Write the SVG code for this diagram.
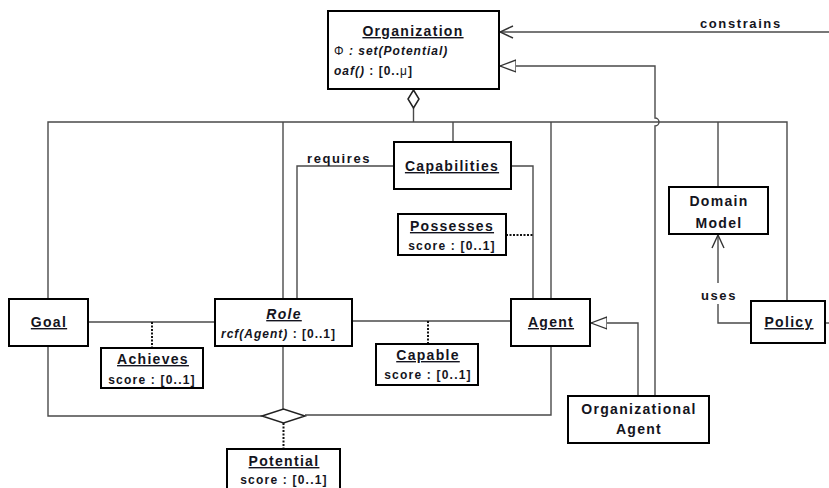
<svg xmlns="http://www.w3.org/2000/svg" width="829" height="488" viewBox="0 0 829 488">
<style>
.box{fill:#fff;stroke:#000;stroke-width:2}
.ln{fill:none;stroke:#4a4a4a;stroke-width:1.4}
.dot{fill:none;stroke:#111;stroke-width:2;stroke-dasharray:2 1.5}
text{font-family:"Liberation Sans",Arial,sans-serif;font-weight:bold;fill:#141420}
.n{font-size:14px;letter-spacing:1.3px;text-anchor:middle}
.u{text-decoration:underline}
.s{font-size:12px;letter-spacing:1.2px;text-anchor:middle}
.l{font-size:13px;letter-spacing:1.6px}
</style>
<defs>
<marker id="tri" viewBox="0 -7 17 14" refX="16" refY="0" markerWidth="17" markerHeight="14" markerUnits="userSpaceOnUse" orient="auto">
<path d="M0,-6 L16,0 L0,6 Z" fill="#fff" stroke="#333" stroke-width="1.3"/>
</marker>
<marker id="open" viewBox="0 -7 15 14" refX="14" refY="0" markerWidth="15" markerHeight="14" markerUnits="userSpaceOnUse" orient="auto">
<path d="M1,-6 L14,0 L1,6" fill="none" stroke="#333" stroke-width="1.4"/>
</marker>
</defs>
<g id="connectors">
<path class="ln" d="M829,32 H500" marker-end="url(#open)"/>
<path class="ln" d="M655,396 V126 A4,4 0 0 0 655,118 V66 H500" marker-end="url(#tri)"/>
<path class="ln" d="M48,299 V122 H787 V301"/>
<path class="ln" d="M413.5,108 V122"/>
<path class="ln" d="M283,122 V299"/>
<path class="ln" d="M453,122 V142"/>
<path class="ln" d="M551,122 V299"/>
<path class="ln" d="M718,122 V187"/>
<path class="ln" d="M394,166 H297 V299"/>
<path class="ln" d="M511,166 H533 V299"/>
<path class="dot" d="M506,235 H533"/>
<path class="ln" d="M88,322 H215"/>
<path class="dot" d="M152,322 V348"/>
<path class="ln" d="M352,321 H511"/>
<path class="dot" d="M428,321 V344"/>
<path class="ln" d="M638,396 V323 H591" marker-end="url(#tri)"/>
<path class="ln" d="M751,323 H718 V304"/>
<path class="ln" d="M718,283 V235" marker-end="url(#open)"/>
<path class="ln" d="M825,323 H829"/>
<path class="ln" d="M48,346 V416 H262"/>
<path class="ln" d="M283,346 V409"/>
<path class="ln" d="M551,346 V415 H305"/>
<path class="dot" d="M283.5,423 V449"/>
<polygon points="413.5,90 419,99 413.5,108 408,99" fill="#fff" stroke="#222" stroke-width="1.5"/>
<polygon points="262,416 283.5,409 305,416 283.5,423" fill="#fff" stroke="#222" stroke-width="1.5"/>
<text class="l" x="700" y="28">constrains</text>
<text class="l" x="307" y="163">requires</text>
<text class="l" x="719" y="300" text-anchor="middle">uses</text>
</g>
<g id="organization">
<rect class="box" x="328" y="11" width="171" height="78"/>
<text class="n u" x="413" y="36">Organization</text>
<text x="334" y="55" style="font-size:12px;letter-spacing:1px"><tspan font-weight="normal">Φ</tspan><tspan font-style="italic"> : set(Potential)</tspan></text>
<text x="334" y="75" style="font-size:12px;letter-spacing:1px"><tspan font-style="italic">oaf()</tspan> : [0..<tspan font-weight="normal">μ</tspan>]</text>
</g>
<g id="capabilities">
<rect class="box" x="394" y="142" width="117" height="47"/>
<text class="n u" x="452" y="171">Capabilities</text>
</g>
<g id="possesses">
<rect class="box" x="398" y="214" width="108" height="41"/>
<text class="n u" x="452" y="231">Possesses</text>
<text class="s" x="452" y="250">score : [0..1]</text>
</g>
<g id="domain-model">
<rect class="box" x="669" y="187" width="99" height="47"/>
<text class="n" x="719" y="206">Domain</text>
<text class="n" x="719" y="228">Model</text>
</g>
<g id="goal">
<rect class="box" x="9" y="299" width="79" height="47"/>
<text class="n u" x="49" y="327">Goal</text>
</g>
<g id="role">
<rect class="box" x="215" y="299" width="137" height="47"/>
<text class="n u" x="284" y="319" font-style="italic">Role</text>
<text x="221" y="338" style="font-size:12px;letter-spacing:1px"><tspan font-style="italic">rcf(Agent)</tspan> : [0..1]</text>
</g>
<g id="achieves">
<rect class="box" x="101" y="348" width="102" height="40"/>
<text class="n u" x="153" y="364">Achieves</text>
<text class="s" x="152" y="384">score : [0..1]</text>
</g>
<g id="capable">
<rect class="box" x="376" y="344" width="102" height="41"/>
<text class="n u" x="428" y="360">Capable</text>
<text class="s" x="428" y="379">score : [0..1]</text>
</g>
<g id="agent">
<rect class="box" x="511" y="299" width="79" height="47"/>
<text class="n u" x="551" y="327">Agent</text>
</g>
<g id="policy">
<rect class="box" x="751" y="301" width="74" height="42"/>
<text class="n u" x="789" y="327">Policy</text>
</g>
<g id="organizational-agent">
<rect class="box" x="568" y="396" width="141" height="47"/>
<text class="n" x="639" y="414">Organizational</text>
<text class="n" x="639" y="434">Agent</text>
</g>
<g id="potential">
<rect class="box" x="227" y="449" width="113" height="45"/>
<text class="n u" x="284" y="466">Potential</text>
<text class="s" x="284" y="484">score : [0..1]</text>
</g>
</svg>
